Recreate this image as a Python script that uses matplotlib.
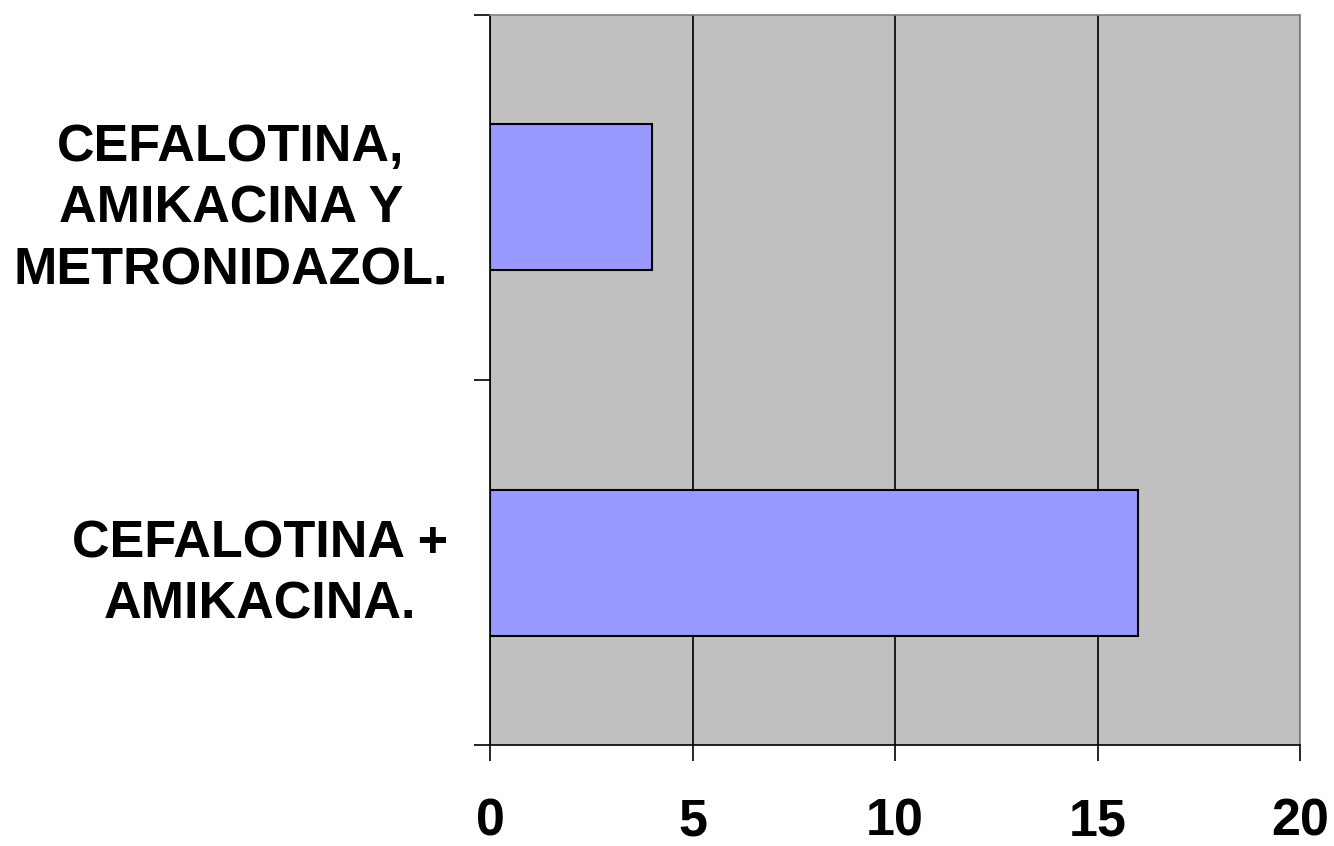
import matplotlib
matplotlib.use("Agg")
import matplotlib.pyplot as plt

# Tratamientos antibióticos y número de casos
categorias = ["CEFALOTINA +\nAMIKACINA.", "CEFALOTINA,\nAMIKACINA Y\nMETRONIDAZOL."]
valores = [16, 4]
ticks_x = [0, 5, 10, 15, 20]

plt.rcParams["font.family"] = ["Liberation Sans", "DejaVu Sans"]
plt.rcParams["font.weight"] = "bold"

fig = plt.figure(figsize=(13.34, 8.46), dpi=100)
ax = fig.add_axes([490 / 1334, 101 / 846, 810 / 1334, 730 / 846])
ax.set_facecolor("#C0C0C0")

ax.barh(range(len(valores)), valores, height=0.4, color="#9999FF",
        edgecolor="black", linewidth=1.5, zorder=3)

ax.set_xlim(0, 20)
ax.set_ylim(-0.5, len(valores) - 0.5)
ax.set_xticks(ticks_x)
ax.set_xticklabels([str(t) for t in ticks_x], fontsize=37.5, fontweight="bold")
ax.tick_params(axis="x", direction="out", length=11.5, width=1.2, pad=26)

# marcas de eje entre categorías, etiquetas en el centro
ax.set_yticks([-0.5, 0.5, 1.5])
ax.set_yticklabels([])
ax.set_yticks(range(len(categorias)), minor=True)
ax.set_yticklabels(categorias, minor=True, fontsize=37.5, fontweight="bold",
                   ha="right", multialignment="center", linespacing=1.34)
ax.tick_params(axis="y", which="major", direction="out", length=11.5, width=1.2)
ax.tick_params(axis="y", which="minor", length=0, pad=30)

ax.xaxis.grid(True, color="black", linewidth=1.2, zorder=1)
ax.set_axisbelow(True)

for lado in ("left", "bottom"):
    ax.spines[lado].set_color("black")
    ax.spines[lado].set_linewidth(1.2)
for lado in ("top", "right"):
    ax.spines[lado].set_color("#808080")
    ax.spines[lado].set_linewidth(1.2)

fig.savefig("out.png", dpi=100)
plt.close(fig)
